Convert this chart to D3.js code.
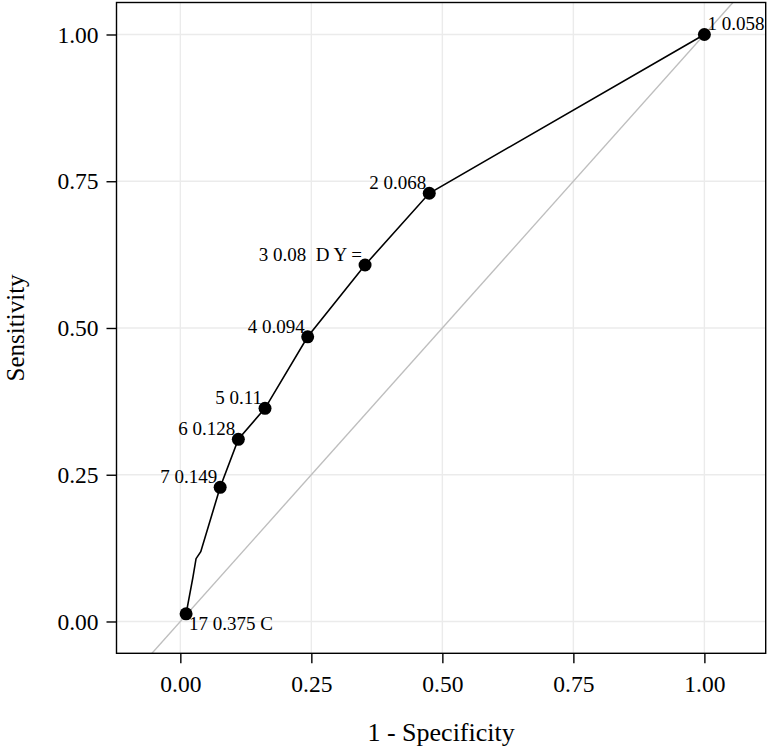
<!DOCTYPE html>
<html>
<head>
<meta charset="utf-8">
<script src="https://cdn.jsdelivr.net/npm/d3@7"></script>
<style>
  body { margin: 0; background: #fff; }
  svg text { font-family: "Liberation Serif", "Times New Roman", serif; }
</style>
</head>
<body>
<svg id="chart" width="772" height="747"></svg>
<script>
'use strict';

// ROC points (1 - specificity, sensitivity), in curve order
let fpr = [1.0, 0.475, 0.3525, 0.243, 0.1616, 0.1107, 0.076, 0.039, 0.030, 0.024, 0.011];
let tpr = [1.0, 0.7295, 0.6073, 0.485, 0.3632, 0.3104, 0.2286, 0.119, 0.107, 0.075, 0.013];
// labelled cutoffs: index into the curve arrays, text, side
let labelIdx = [0, 1, 2, 3, 4, 5, 6, 10];
let labelText = ["1 0.058", "2 0.068", "3 0.08  D Y =", "4 0.094", "5 0.11", "6 0.128", "7 0.149", "17 0.375 C"];
let labelSide = ["right-up", "left", "left", "left", "left", "left", "left", "right-down"];
let xTicks = [0, 0.25, 0.5, 0.75, 1];
let yTicks = [0, 0.25, 0.5, 0.75, 1];

let svg = d3.select("#chart");
let margin = {left: 116.5, right: 6.3, top: 2.5, bottom: 93.7};
let width = +svg.attr("width"),
    height = +svg.attr("height");

let x = d3.scaleLinear().domain([-0.1218, 1.117]).range([margin.left, width - margin.right]);
let y = d3.scaleLinear().domain([-0.0542, 1.0545]).range([height - margin.bottom, margin.top]);

svg.append("defs").append("clipPath").attr("id", "panel")
    .append("rect")
    .attr("x", margin.left).attr("y", margin.top)
    .attr("width", x.range()[1] - margin.left)
    .attr("height", y.range()[0] - margin.top);

// grid
let grid = svg.append("g").attr("class", "grid");
grid.selectAll("line.v").data(xTicks).enter().append("line")
    .attr("x1", d => x(d)).attr("x2", d => x(d))
    .attr("y1", y.range()[1]).attr("y2", y.range()[0])
    .style("stroke", "#ebebeb").style("stroke-width", "1.4px");
grid.selectAll("line.h").data(yTicks).enter().append("line")
    .attr("y1", d => y(d)).attr("y2", d => y(d))
    .attr("x1", x.range()[0]).attr("x2", x.range()[1])
    .style("stroke", "#ebebeb").style("stroke-width", "1.4px");

// reference diagonal
svg.append("line")
    .attr("clip-path", "url(#panel)")
    .attr("x1", x(-0.2)).attr("y1", y(-0.2))
    .attr("x2", x(1.2)).attr("y2", y(1.2))
    .style("stroke", "#bebebe").style("stroke-width", "1.4px");

// curve
let pts = fpr.map((d, i) => [d, tpr[i]]);
svg.append("path")
    .datum(pts)
    .attr("d", d3.line().x(d => x(d[0])).y(d => y(d[1])))
    .style("fill", "none").style("stroke", "#000").style("stroke-width", "1.6px");

svg.append("g").selectAll("circle")
    .data(labelIdx)
    .enter().append("circle")
    .attr("cx", i => x(fpr[i])).attr("cy", i => y(tpr[i]))
    .attr("r", 6.5).attr("fill", "#000");

svg.append("g").selectAll("text")
    .data(labelIdx)
    .enter().append("text")
    .attr("x", (i, k) => labelSide[k] === "left" ? x(fpr[i]) - 3 : x(fpr[i]) + 3)
    .attr("y", (i, k) => labelSide[k] === "right-down" ? y(tpr[i]) + 16 : y(tpr[i]) - 4)
    .attr("text-anchor", (i, k) => labelSide[k] === "left" ? "end" : "start")
    .style("font-size", "19px").style("white-space", "pre")
    .attr("xml:space", "preserve")
    .text((i, k) => labelText[k]);

// panel border
svg.append("rect")
    .attr("x", margin.left).attr("y", margin.top)
    .attr("width", x.range()[1] - margin.left)
    .attr("height", y.range()[0] - margin.top)
    .style("fill", "none").style("stroke", "#000").style("stroke-width", "1.4px");

// axes
let xAxis = svg.append("g")
    .attr("transform", "translate(0," + y.range()[0] + ")")
    .call(d3.axisBottom(x).tickValues(xTicks).tickFormat(d3.format(".2f")).tickSize(10).tickPadding(12));
let yAxis = svg.append("g")
    .attr("transform", "translate(" + margin.left + ",0)")
    .call(d3.axisLeft(y).tickValues(yTicks).tickFormat(d3.format(".2f")).tickSize(10).tickPadding(8));
[xAxis, yAxis].forEach(function(a) {
    a.select(".domain").remove();
    a.selectAll(".tick line").style("stroke", "#000").style("stroke-width", "1.4px");
    a.selectAll(".tick text").style("font-size", "23.5px").style("fill", "#000")
        .style("font-family", "'Liberation Serif', 'Times New Roman', serif");
});

svg.append("text")
    .attr("x", (x.range()[0] + x.range()[1]) / 2).attr("y", 741)
    .attr("text-anchor", "middle").style("font-size", "26px")
    .text("1 - Specificity");
svg.append("text")
    .attr("transform", "translate(24," + ((y.range()[0] + y.range()[1]) / 2) + ") rotate(-90)")
    .attr("text-anchor", "middle").style("font-size", "25px")
    .text("Sensitivity");
</script>
</body>
</html>
